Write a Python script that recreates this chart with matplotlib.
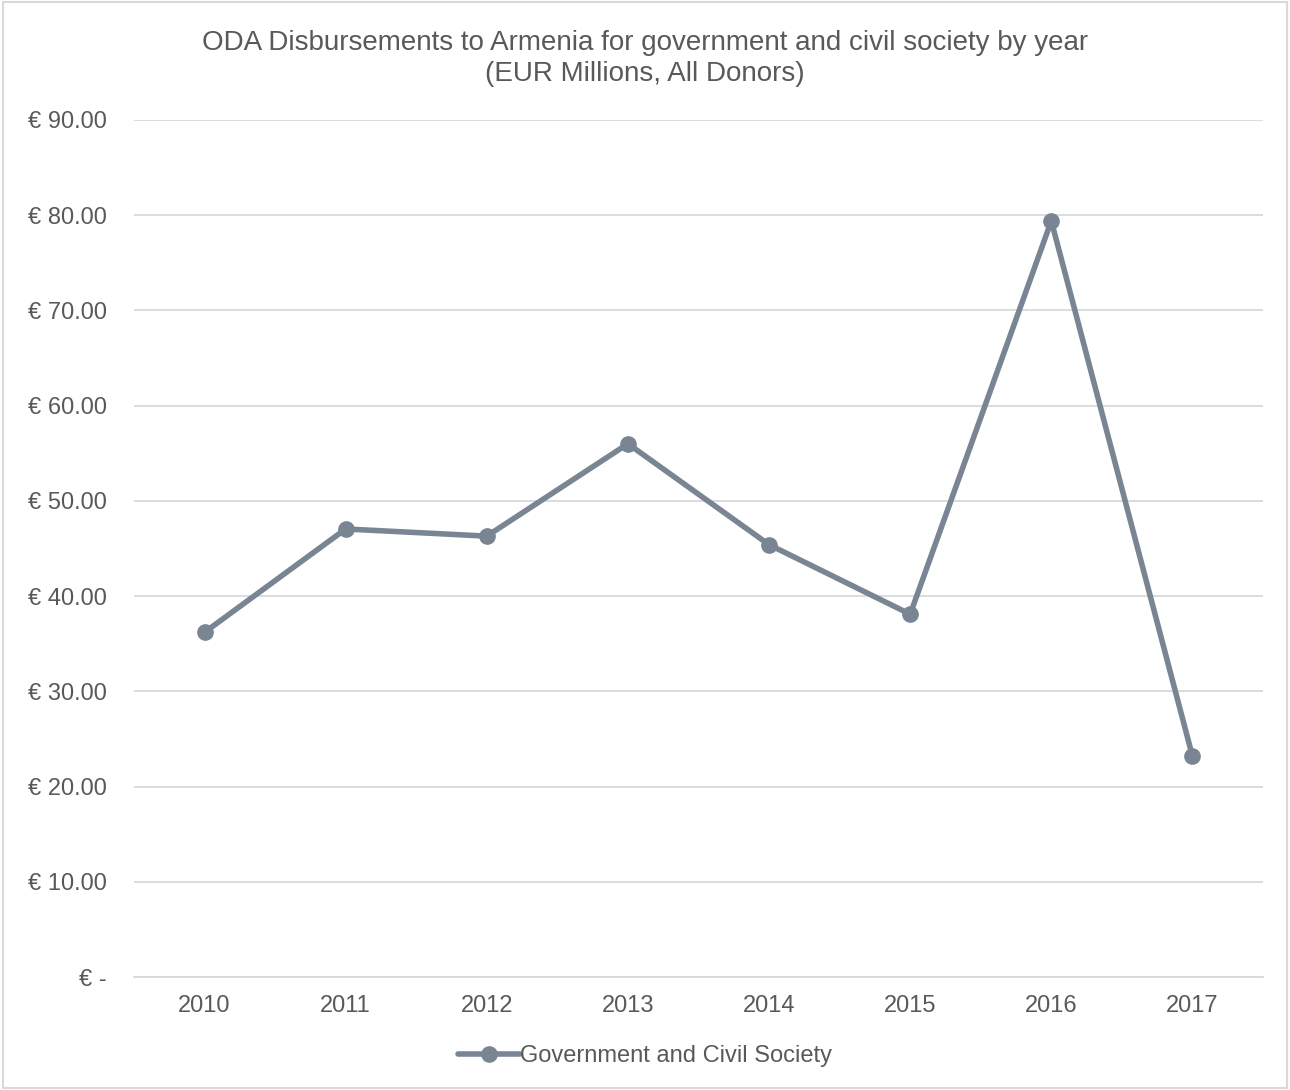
import matplotlib.pyplot as plt
from matplotlib.patches import Rectangle

plt.rcParams['font.family'] = ['Liberation Sans', 'DejaVu Sans']

# Yearly ODA disbursements, EUR millions
years = ['2010', '2011', '2012', '2013', '2014', '2015', '2016', '2017']
values = [36.2, 47.05, 46.3, 56.0, 45.4, 38.1, 79.4, 23.2]
y_ticks = [0, 10, 20, 30, 40, 50, 60, 70, 80, 90]

line_color = '#7a8594'
text_color = '#595959'
grid_color = '#d9d9d9'

fig = plt.figure(figsize=(12.9, 10.9), dpi=100)
ax = fig.add_axes([134 / 1290, 113 / 1090, 1129 / 1290, 857 / 1090])

x = range(len(years))
ax.plot(x, values, color=line_color, linewidth=4, marker='o', markersize=11,
        solid_capstyle='round', label='Government and Civil Society')

ax.set_xlim(-0.5, len(years) - 0.5)
ax.set_ylim(0, 90)
ax.set_xticks(list(x))
ax.set_xticklabels(years)
ax.set_yticks(y_ticks)
ax.set_yticklabels(['€ -' if v == 0 else f'€ {v:.2f}' for v in y_ticks])
ax.tick_params(axis='both', length=0, labelsize=17, colors=text_color)
ax.tick_params(axis='y', pad=19.5)
ax.tick_params(axis='x', pad=13)
for lbl in ax.get_yticklabels():
    lbl.set_horizontalalignment('right')

ax.grid(axis='y', color=grid_color, linewidth=1.3)
ax.set_axisbelow(True)
for side in ['top', 'right', 'left']:
    ax.spines[side].set_visible(False)
ax.spines['bottom'].set_color(grid_color)
ax.spines['bottom'].set_linewidth(1.3)

fig.text(0.5, 1 - 43 / 1090, 'ODA Disbursements to Armenia for government and civil society by year',
         ha='center', va='center', fontsize=20, color=text_color)
fig.text(0.5, 1 - 74 / 1090, '(EUR Millions, All Donors)',
         ha='center', va='center', fontsize=20, color=text_color)

fig.legend(loc='center', bbox_to_anchor=(0.5, 1 - 1056 / 1090), frameon=False,
           fontsize=17, labelcolor=text_color, handlelength=2.6, handletextpad=0.0)

# light frame around the whole chart
fig.patches.append(Rectangle((0.002, 0.002), 0.996, 0.996, transform=fig.transFigure,
                             fill=False, edgecolor='#d9d9d9', linewidth=1.5))

fig.savefig('out.png', dpi=100)
